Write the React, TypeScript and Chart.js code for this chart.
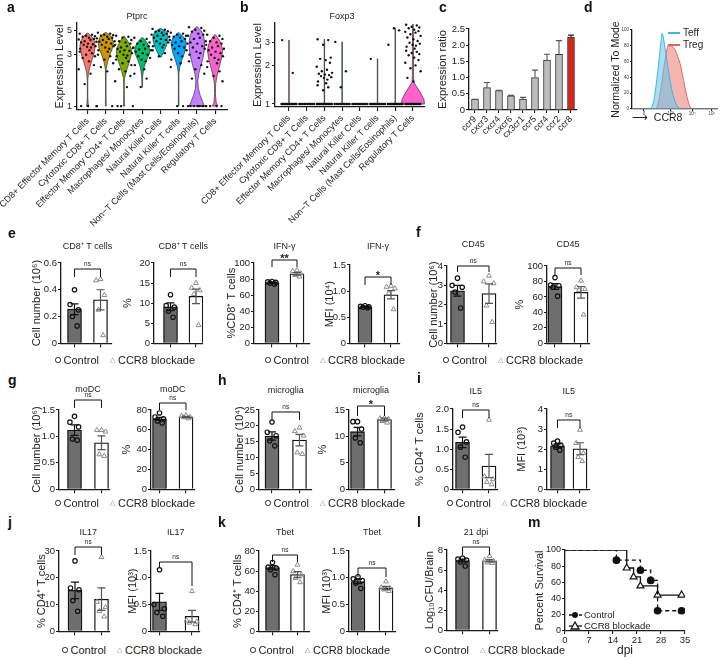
import React, { useEffect, useRef } from 'react';
import { Chart, registerables } from 'chart.js';

Chart.register(...registerables);
const FONT = '"Liberation Sans", Arial, Helvetica, sans-serif';
Chart.defaults.font.family = FONT;
Chart.defaults.color = '#222';
Chart.defaults.plugins.legend.display = false;
Chart.defaults.plugins.tooltip.enabled = false;

// ---------------- data: panels a / b ----------------
const cellTypes = [
  'CD8+ Effector Memory T Cells',
  'Cytotoxic CD8+ T Cells',
  'Effector Memory CD4+ T Cells',
  'Macrophages/ Monocytes',
  'Natural Killer Cells',
  'Natural Killer T cells',
  'Non\u2212T Cells (Mast Cells/Eosinophils)',
  'Regulatory T Cells',
];
const violinColors = ['#F8766D', '#CD9600', '#7CAE00', '#00BE67', '#00BFC4', '#00A9FF', '#C77CFF', '#FF61CC'];
const ptprcTicks = [1, 3, 5];
const foxp3Ticks = [1, 2, 3];
// [expression, relative density]
const ptprcDensity: number[][][] = [
  [[1, 0.15], [1.05, 0.08], [1.2, 0.03], [1.7, 0.03], [2.0, 0.1], [2.3, 0.3], [2.7, 0.6], [3.1, 0.85], [3.6, 1.0], [4.0, 0.9], [4.4, 0.55], [4.75, 0.08]],
  [[1, 0.05], [1.5, 0.03], [2.2, 0.05], [2.6, 0.25], [3.0, 0.55], [3.5, 0.9], [3.9, 1.0], [4.3, 0.8], [4.6, 0.45], [4.8, 0.1]],
  [[1, 0.1], [1.05, 0.05], [1.5, 0.03], [1.8, 0.06], [2.1, 0.3], [2.5, 0.65], [3.0, 0.95], [3.3, 1.0], [3.7, 0.75], [4.1, 0.4], [4.45, 0.05]],
  [[1.5, 0.03], [1.9, 0.06], [2.3, 0.25], [2.7, 0.6], [3.1, 0.95], [3.3, 1.0], [3.7, 0.8], [4.0, 0.5], [4.3, 0.1]],
  [[2.85, 0.1], [3.1, 0.35], [3.5, 0.7], [4.0, 0.95], [4.4, 1.0], [4.8, 0.8], [5.1, 0.35], [5.25, 0.05]],
  [[1, 0.04], [1.5, 0.03], [2.0, 0.04], [2.3, 0.15], [2.7, 0.45], [3.1, 0.75], [3.6, 0.95], [3.9, 1.0], [4.3, 0.75], [4.6, 0.35], [4.8, 0.05]],
  [[1, 1.0], [1.1, 0.75], [1.25, 0.45], [1.45, 0.2], [1.7, 0.12], [2.0, 0.25], [2.4, 0.55], [2.9, 0.85], [3.4, 1.0], [4.0, 1.0], [4.6, 0.85], [5.0, 0.55], [5.3, 0.2], [5.45, 0.05]],
  [[1, 0.35], [1.08, 0.15], [1.3, 0.05], [1.6, 0.08], [1.9, 0.25], [2.3, 0.55], [2.8, 0.85], [3.3, 1.0], [3.8, 0.8], [4.2, 0.45], [4.6, 0.05]],
];
const ptprcCells: number[][] = [
  [4.7, 4.6, 4.5, 4.45, 4.4, 4.3, 4.2, 4.15, 4.1, 4.0, 3.95, 3.9, 3.8, 3.75, 3.7, 3.6, 3.55, 3.5, 3.4, 3.3, 3.2, 3.1, 3.0, 2.9, 2.8, 2.6, 2.4, 2.2, 2.0, 1.6, 1, 1, 1],
  [4.8, 4.7, 4.6, 4.55, 4.5, 4.4, 4.3, 4.25, 4.2, 4.1, 4.0, 3.95, 3.9, 3.8, 3.7, 3.6, 3.5, 3.4, 3.3, 3.2, 3.0, 2.9, 2.7, 2.5, 2.3, 2.1, 1, 1],
  [4.5, 4.4, 4.3, 4.1, 4.0, 3.9, 3.8, 3.7, 3.6, 3.5, 3.45, 3.4, 3.3, 3.25, 3.2, 3.1, 3.0, 2.95, 2.9, 2.8, 2.7, 2.6, 2.5, 2.4, 2.2, 2.1, 1.9, 1.7, 1.5, 1, 1, 1],
  [4.3, 4.2, 4.0, 3.9, 3.8, 3.7, 3.6, 3.5, 3.4, 3.35, 3.3, 3.2, 3.1, 3.0, 2.9, 2.8, 2.7, 2.6, 2.4, 2.2, 2.0, 1.8, 1.5],
  [5.2, 5.1, 5.0, 4.95, 4.9, 4.8, 4.7, 4.6, 4.55, 4.5, 4.4, 4.3, 4.2, 4.1, 4.0, 3.9, 3.8, 3.7, 3.6, 3.5, 3.3, 3.1, 2.9],
  [4.8, 4.7, 4.6, 4.5, 4.4, 4.3, 4.2, 4.1, 4.0, 3.9, 3.8, 3.7, 3.6, 3.5, 3.4, 3.3, 3.1, 2.9, 2.7, 2.5, 2.3, 1, 1],
  [5.4, 5.3, 5.1, 5.0, 4.9, 4.7, 4.6, 4.5, 4.3, 4.2, 4.0, 3.9, 3.8, 3.6, 3.5, 3.4, 3.2, 3.1, 3.0, 2.8, 2.6, 2.4, 2.2, 2.0, 1.8, 1, 1, 1, 1, 1, 1, 1, 1, 1],
  [4.6, 4.5, 4.3, 4.2, 4.0, 3.9, 3.8, 3.7, 3.6, 3.5, 3.4, 3.3, 3.2, 3.1, 3.0, 2.9, 2.8, 2.7, 2.6, 2.5, 2.3, 2.1, 1.9, 1.7, 1, 1, 1, 1],
];
const foxp3Density: number[][][] = [
  [[1, 0.03], [3.15, 0.03]],
  [],
  [[1, 0.03], [3.2, 0.03]],
  [[1, 0.03], [3.05, 0.03]],
  [],
  [[1, 0.03], [2.25, 0.03]],
  [[1, 0.03], [3.9, 0.03]],
  [[1, 1.0], [1.09, 0.95], [1.24, 0.62], [1.38, 0.28], [1.48, 0.08], [1.7, 0.05], [2.5, 0.05], [3.5, 0.04], [4.2, 0.02]],
];
const foxp3Cells: number[][] = [
  [3.15, 1.75],
  [],
  [3.2, 3.15, 2.9, 2.3, 2.25, 2.2, 2.1, 1.95, 1.85, 1.8, 1.75, 1.72, 1.7, 1.68, 1.65, 1.62, 1.6, 1.55, 1.5, 1.45, 1.4, 1.35, 1.28],
  [3.05, 1.8, 1.35],
  [],
  [2.25],
  [2.9, 3.75, 3.9],
  [4.15, 4.1, 4.0, 3.95, 3.9, 3.8, 3.7, 3.65, 3.6, 3.5, 3.4, 3.3, 3.2, 3.1, 3.0, 2.95, 2.9, 2.85, 2.8, 2.7, 2.6, 2.55, 2.5, 2.45, 2.4, 2.3, 2.2, 2.1, 2.0, 1.9, 1.8, 1.6, 1.5],
];
const foxp3ZeroCounts = [14, 10, 16, 10, 10, 12, 16, 14];

// ---------------- data: panel c ----------------
const chemokines = ['ccr9', 'cxcr3', 'cxcr4', 'cxcr6', 'cx3cr1', 'ccr5', 'ccr4', 'ccr2', 'ccr8'];
const chemoRatio = [0.33, 0.69, 0.6, 0.44, 0.34, 1.0, 1.54, 1.72, 2.25];
const chemoErr = [0.0, 0.16, 0.01, 0.01, 0.05, 0.23, 0.18, 0.42, 0.06];

// ---------------- data: panel d ----------------
const teffX = [0, 20, 22, 24, 26, 28, 30, 32, 34, 35, 36, 38, 40, 42, 44, 46, 48, 50, 52, 55, 58, 100];
const teffY = [0, 0, 1, 5, 14, 30, 48, 68, 88, 96, 93, 80, 66, 52, 38, 26, 17, 10, 5, 1, 0, 0];
const tregX = [0, 26, 29, 31, 33, 35, 37, 39, 41, 42, 44, 46, 48, 50, 52, 54, 56, 58, 60, 62, 64, 66, 68, 70, 100];
const tregY = [0, 0, 3, 10, 22, 36, 52, 66, 77, 81, 79, 80, 78, 75, 70, 64, 57, 47, 36, 25, 15, 7, 2, 0, 0];
const ccr8TickPos = [14, 45, 70, 93];
const ccr8TickLabels = ['0', '10\u00b3', '10\u2074', '10\u2075'];

// ---------------- data: panels e-l (Control, CCR8 blockade) ----------------
const cd8NumCtrl = [0.4, 0.29, 0.25, 0.2, 0.13];
const cd8NumBlk = [0.48, 0.47, 0.36, 0.25, 0.06];
const cd8NumMean = [0.255, 0.325];
const cd8NumSem = [0.04, 0.075];
const cd8PctCtrl = [12.1, 9.4, 9.0, 8.0, 6.5];
const cd8PctBlk = [15.0, 13.8, 13.2, 12.3, 4.5];
const cd8PctMean = [9.1, 11.7];
const cd8PctSem = [0.95, 1.8];
const ifngPctCtrl = [77, 76.5, 76, 75, 74];
const ifngPctBlk = [91, 90, 87, 85, 83];
const ifngPctMean = [75.5, 86.5];
const ifngPctSem = [0.6, 1.7];
const ifngMfiCtrl = [0.72, 0.71, 0.7, 0.69, 0.68];
const ifngMfiBlk = [1.1, 1.08, 1.05, 0.96, 0.65];
const ifngMfiMean = [0.7, 0.93];
const ifngMfiSem = [0.01, 0.08];
const cd45NumCtrl = [3.37, 3.0, 2.9, 2.65, 1.83];
const cd45NumBlk = [3.49, 3.2, 3.1, 1.95, 1.1];
const cd45NumMean = [2.72, 2.57];
const cd45NumSem = [0.28, 0.5];
const cd45PctCtrl = [85, 75.5, 74.5, 72.5, 61];
const cd45PctBlk = [81, 72.5, 70, 69, 37];
const cd45PctMean = [73.5, 66];
const cd45PctSem = [3.8, 7.5];
const modcNumCtrl = [1.38, 1.27, 1.18, 0.95, 0.93];
const modcNumBlk = [1.12, 1.12, 1.09, 0.66, 0.63];
const modcNumMean = [1.12, 0.88];
const modcNumSem = [0.1, 0.13];
const modcPctCtrl = [77, 73, 71, 69, 67];
const modcPctBlk = [74.5, 74, 73, 72.5, 71.5];
const modcPctMean = [71, 73];
const modcPctSem = [1.5, 0.6];
const microNumCtrl = [21.2, 18, 16.9, 15.3, 13.7];
const microNumBlk = [19.4, 18.3, 16.9, 11.6, 11.1];
const microNumMean = [16.8, 15.5];
const microNumSem = [1.3, 1.8];
const microPctCtrl = [12.8, 12.8, 11.4, 9.7, 8.8];
const microPctBlk = [13.5, 13.4, 13.3, 12.9, 12.6];
const microPctMean = [10.9, 13.2];
const microPctSem = [0.8, 0.25];
const il5PctCtrl = [1.55, 1.42, 1.18, 1.05, 0.8];
const il5PctBlk = [1.73, 0.32, 0.25, 0.18, 0.12];
const il5PctMean = [1.17, 0.58];
const il5PctSem = [0.13, 0.29];
const il5MfiCtrl = [2.4, 2.3, 2.2, 2.1, 1.95];
const il5MfiBlk = [2.96, 2.3, 1.8, 1.6, 1.4];
const il5MfiMean = [2.17, 2.02];
const il5MfiSem = [0.09, 0.3];
const il17PctCtrl = [26.3, 16.2, 15.5, 11.5, 7.5];
const il17PctBlk = [27.7, 11, 9, 7.5, 5.5];
const il17PctMean = [15.3, 12];
const il17PctSem = [3.1, 4.2];
const il17MfiCtrl = [1.15, 0.5, 0.42, 0.35, 0.28];
const il17MfiBlk = [0.75, 0.2, 0.18, 0.16, 0.13];
const il17MfiMean = [0.55, 0.28];
const il17MfiSem = [0.16, 0.11];
const tbetPctCtrl = [68.6, 64, 63, 61.4, 56.4];
const tbetPctBlk = [66.3, 59.7, 56.4, 53, 48.8];
const tbetPctMean = [63.5, 56.5];
const tbetPctSem = [2, 3];
const tbetMfiCtrl = [1.02, 0.98, 0.95, 0.9, 0.8];
const tbetMfiBlk = [0.93, 0.82, 0.8, 0.78, 0.75];
const tbetMfiMean = [0.93, 0.81];
const tbetMfiSem = [0.04, 0.03];
const cfuCtrl = [7.2, 7.1, 7.0, 6.8, 6.4];
const cfuBlk = [7.4, 7.0, 6.9, 6.75, 6.7];
const cfuMean = [6.95, 6.93];
const cfuSem = [0.15, 0.12];

// ---------------- data: panel m ----------------
const ctrlSurvDay = [0, 15, 22, 25, 27, 34];
const ctrlSurvPct = [100, 87.5, 75, 62.5, 25, 25];
const blkSurvDay = [0, 18, 20, 22, 27, 34];
const blkSurvPct = [100, 77.8, 66.7, 55.6, 44.4, 44.4];

// ---------------- helpers ----------------
type Rect = { l: number; t: number; w: number; h: number };

function ChartBox({ rect, config }: { rect: Rect; config: any }) {
  const ref = useRef<HTMLCanvasElement | null>(null);
  useEffect(() => {
    if (!ref.current) return;
    const chart = new Chart(ref.current, config);
    return () => chart.destroy();
  }, []);
  return (
    <canvas
      ref={ref}
      width={rect.w}
      height={rect.h}
      style={{ position: 'absolute', left: rect.l, top: rect.t, width: rect.w, height: rect.h }}
    />
  );
}

const baseOpts = (padding: any) => ({
  responsive: false,
  animation: false,
  devicePixelRatio: 1,
  events: [],
  layout: { padding, autoPadding: false },
  plugins: { legend: { display: false }, tooltip: { enabled: false } },
});

const axisLook = (tl: number) => ({
  grid: { drawOnChartArea: false, tickLength: tl, color: '#1a1a1a', lineWidth: 1.1, offset: false },
  border: { color: '#1a1a1a', width: 1.3 },
});

const JIT = [-0.32, 0.18, -0.06, 0.3, -0.2, 0.06, 0.26, -0.36, 0.12, -0.12, 0.36, -0.26, 0.02, 0.22, -0.16, 0.32, -0.02, 0.14, -0.3, 0.08];
const JIT5 = [0, -0.17, 0.15, -0.08, 0.1];

// ---------------- violin panels ----------------
type ViolinSpec = {
  rect: Rect; axisX: number; plotTop: number; plotBottom: number; plotRight: number;
  xmin: number; xmax: number; ymin: number; ymax: number; ticks: number[];
  title: string; titleX: number; titleY: number; ylabelX: number;
  dens: number[][][]; cells: number[][]; zeros?: number[]; halfW: number[]; spread: number;
};

function violinConfig(o: ViolinSpec) {
  const pts: any[] = [];
  o.cells.forEach((vals, i) => vals.forEach((v, k) => pts.push({ x: i + JIT[k % JIT.length] * o.spread, y: v })));
  if (o.zeros) {
    o.zeros.forEach((n, i) => {
      for (let k = 0; k < n; k++) pts.push({ x: i - 0.42 + (0.84 * k) / Math.max(1, n - 1), y: 1 });
    });
  }
  const bottom = o.rect.t + o.rect.h;
  const violinPlugin = {
    id: 'violins',
    beforeDatasetsDraw(chart: any) {
      const { ctx, scales } = chart;
      const x = scales.x, y = scales.y;
      ctx.save();
      o.dens.forEach((shape, i) => {
        if (!shape.length) return;
        const hw = o.halfW[i];
        ctx.beginPath();
        shape.forEach(([v, w], k) => {
          const px = x.getPixelForValue(i - w * hw);
          const py = y.getPixelForValue(v);
          if (k) ctx.lineTo(px, py); else ctx.moveTo(px, py);
        });
        for (let k = shape.length - 1; k >= 0; k--) {
          const [v, w] = shape[k];
          ctx.lineTo(x.getPixelForValue(i + w * hw), y.getPixelForValue(v));
        }
        ctx.closePath();
        ctx.fillStyle = violinColors[i];
        ctx.fill();
        ctx.strokeStyle = '#333';
        ctx.lineWidth = 0.7;
        ctx.stroke();
      });
      ctx.restore();
    },
    afterDatasetsDraw(chart: any) {
      const ctx = chart.ctx;
      ctx.save();
      ctx.font = `9px ${FONT}`;
      ctx.fillStyle = '#222';
      ctx.textAlign = 'center';
      ctx.textBaseline = 'middle';
      ctx.fillText(o.title, o.titleX - o.rect.l, o.titleY - o.rect.t);
      ctx.restore();
    },
  };
  return {
    type: 'scatter',
    data: { datasets: [{ data: pts, pointRadius: 1.2, pointBackgroundColor: '#111', pointBorderWidth: 0 }] },
    options: {
      ...baseOpts({ top: o.plotTop - o.rect.t, right: o.rect.l + o.rect.w - o.plotRight, left: 0, bottom: 0 }),
      scales: {
        x: {
          type: 'linear', min: o.xmin, max: o.xmax, offset: false,
          afterBuildTicks: (s: any) => { s.ticks = cellTypes.map((_, i) => ({ value: i })); },
          ticks: { autoSkip: false, minRotation: 45, maxRotation: 45, font: { size: 9 }, padding: 2, color: '#222',
            callback: (v: any) => cellTypes[Math.round(v)] ?? '' },
          ...axisLook(4),
          afterFit: (s: any) => { s.height = bottom - o.plotBottom; s.paddingLeft = 0; s.paddingRight = 0; },
        },
        y: {
          type: 'logarithmic', min: o.ymin, max: o.ymax,
          afterBuildTicks: (s: any) => { s.ticks = o.ticks.map((v) => ({ value: v })); },
          ticks: { font: { size: 9 }, padding: 2, color: '#222', callback: (v: any) => String(v) },
          ...axisLook(3),
          title: { display: true, text: 'Expression Level', font: { size: 11 }, color: '#222', padding: { top: o.ylabelX - o.rect.l - 6.6, bottom: 0 } },
          afterFit: (s: any) => { s.width = o.axisX - o.rect.l; },
        },
      },
    },
    plugins: [violinPlugin],
  };
}

const violinA: ViolinSpec = {
  rect: { l: 0, t: 10, w: 235, h: 218 }, axisX: 77, plotTop: 23, plotBottom: 110, plotRight: 228,
  xmin: -0.58, xmax: 7.71, ymin: 0.92, ymax: 5.9, ticks: ptprcTicks,
  title: 'Ptprc', titleX: 137, titleY: 17, ylabelX: 60,
  dens: ptprcDensity, cells: ptprcCells, halfW: [0.42, 0.42, 0.42, 0.42, 0.42, 0.42, 0.42, 0.42], spread: 1.35,
};
const violinB: ViolinSpec = {
  rect: { l: 190, t: 10, w: 240, h: 218 }, axisX: 275, plotTop: 23, plotBottom: 107, plotRight: 425,
  xmin: -0.79, xmax: 7.68, ymin: 0.948, ymax: 4.28, ticks: foxp3Ticks,
  title: 'Foxp3', titleX: 342, titleY: 17, ylabelX: 258,
  dens: foxp3Density, cells: foxp3Cells, zeros: foxp3ZeroCounts, halfW: [0.42, 0.42, 0.42, 0.42, 0.42, 0.42, 0.42, 0.65], spread: 1.2,
};

// ---------------- panel c ----------------
const rectC: Rect = { l: 436, t: 21, w: 144, h: 119 };
function chemoConfig() {
  const r = rectC;
  const errPlugin = {
    id: 'err',
    afterDatasetsDraw(chart: any) {
      const { ctx, scales } = chart;
      const meta = chart.getDatasetMeta(0);
      ctx.save();
      chemoRatio.forEach((v, i) => {
        const px = meta.data[i].x;
        const y0 = scales.y.getPixelForValue(v);
        const y1 = scales.y.getPixelForValue(v + chemoErr[i]);
        ctx.strokeStyle = i === chemoRatio.length - 1 ? '#222' : '#555';
        ctx.lineWidth = 1.1;
        ctx.beginPath();
        ctx.moveTo(px, y0); ctx.lineTo(px, y1);
        ctx.moveTo(px - 3, y1); ctx.lineTo(px + 3, y1);
        ctx.stroke();
      });
      ctx.restore();
    },
  };
  return {
    type: 'bar',
    data: {
      labels: chemokines,
      datasets: [{
        data: chemoRatio,
        backgroundColor: chemokines.map((c) => (c === 'ccr8' ? '#D8261C' : '#BDBDBD')),
        borderColor: '#333', borderWidth: 1, barThickness: 7,
      }],
    },
    options: {
      ...baseOpts({ top: 29 - r.t, right: r.l + r.w - 577, left: 0, bottom: 0 }),
      scales: {
        x: {
          type: 'category', offset: true,
          ticks: { autoSkip: false, minRotation: 45, maxRotation: 45, font: { size: 9 }, padding: 1, color: '#222' },
          ...axisLook(3),
          afterFit: (s: any) => { s.height = r.t + r.h - 110; s.paddingLeft = 0; s.paddingRight = 0; },
        },
        y: {
          type: 'linear', min: 0, max: 2.5,
          ticks: { stepSize: 0.5, font: { size: 9.5 }, padding: 1, color: '#222', callback: (v: any) => (v === 0 ? '0' : Number(v).toFixed(1)) },
          ...axisLook(3),
          title: { display: true, text: 'Expression ratio', font: { size: 11 }, color: '#222', padding: { top: 0, bottom: 0 } },
          afterFit: (s: any) => { s.width = 469 - r.l; },
        },
      },
    },
    plugins: [errPlugin],
  };
}

// ---------------- panel d ----------------
const rectD: Rect = { l: 610, t: 22, w: 110, h: 102 };
function flowConfig() {
  const r = rectD;
  return {
    type: 'line',
    data: {
      datasets: [
        { data: teffX.map((x, i) => ({ x, y: teffY[i] })), borderColor: '#3DB6E3', backgroundColor: 'rgba(100,196,234,0.55)', fill: 'origin', borderWidth: 1, pointRadius: 0, tension: 0.35 },
        { data: tregX.map((x, i) => ({ x, y: tregY[i] })), borderColor: '#E2665F', backgroundColor: 'rgba(236,120,113,0.55)', fill: 'origin', borderWidth: 1, pointRadius: 0, tension: 0.35 },
      ],
    },
    options: {
      ...baseOpts({ top: 30 - r.t, right: r.l + r.w - 718, left: 0, bottom: 0 }),
      scales: {
        x: {
          type: 'linear', min: 0, max: 100, offset: false,
          afterBuildTicks: (s: any) => { s.ticks = ccr8TickPos.map((v) => ({ value: v })); },
          ticks: { font: { size: 4.5 }, padding: 0, color: '#333', callback: (v: any) => ccr8TickLabels[ccr8TickPos.indexOf(v)] ?? '' },
          ...axisLook(2),
          title: { display: true, text: '\u27F6  CCR8', align: 'start', font: { size: 10.5 }, color: '#222', padding: { top: 0, bottom: 0 } },
          afterFit: (s: any) => { s.height = r.t + r.h - 109; s.paddingLeft = 0; s.paddingRight = 0; },
        },
        y: {
          type: 'linear', min: 0, max: 100,
          ticks: { stepSize: 20, font: { size: 4.5 }, padding: 1, color: '#333' },
          ...axisLook(2),
          title: { display: true, text: 'Normalized To Mode', font: { size: 10.5 }, color: '#222', padding: { top: 0, bottom: 0 } },
          afterFit: (s: any) => { s.width = 632 - r.l; },
        },
      },
    },
  };
}

// ---------------- bar panels e-l ----------------
type BarSpec = {
  title: string; ylabel: string; ymax: number; step: number;
  ctrl: number[]; blk: number[]; mean: number[]; sem: number[]; sig: string;
  axisX: number; ctrlX: number; blkX: number; plotRight: number;
  topY: number; zeroY: number; titleY: number; ylabelX: number;
  bracketY: number; drop: number[];
};

const fmtTick = (v: number, step: number) => (v === 0 ? '0' : step < 1 ? v.toFixed(1) : String(Math.round(v)));

function barPanel(s: BarSpec) {
  const l = Math.round(s.ylabelX - 7);
  const t = Math.round(Math.min(s.titleY - 8, s.bracketY - 14));
  const r = Math.round(s.plotRight + 5);
  const b = Math.round(s.zeroY + 6);
  const unit = s.blkX - s.ctrlX;
  const xmin = -(s.ctrlX - s.axisX) / unit;
  const xmax = (s.plotRight - s.ctrlX) / unit;
  const rect = { l, t, w: r - l, h: b - t };
  const extras = {
    id: 'extras',
    afterDatasetsDraw(chart: any) {
      const { ctx, scales } = chart;
      const x = scales.x, y = scales.y;
      ctx.save();
      s.mean.forEach((m, i) => {
        const px = x.getPixelForValue(i);
        const y1 = y.getPixelForValue(m + s.sem[i]);
        const y0 = y.getPixelForValue(Math.max(0, m - s.sem[i]));
        ctx.strokeStyle = i === 0 ? '#111' : '#555';
        ctx.lineWidth = 1.2;
        ctx.beginPath();
        ctx.moveTo(px, y0); ctx.lineTo(px, y1);
        ctx.moveTo(px - 4, y1); ctx.lineTo(px + 4, y1);
        ctx.moveTo(px - 4, y0); ctx.lineTo(px + 4, y0);
        ctx.stroke();
      });
      const x0 = x.getPixelForValue(0), x1 = x.getPixelForValue(1);
      const by = s.bracketY - t;
      ctx.strokeStyle = '#111';
      ctx.lineWidth = 1;
      ctx.beginPath();
      ctx.moveTo(x0, s.drop[0] - t); ctx.lineTo(x0, by); ctx.lineTo(x1, by); ctx.lineTo(x1, s.drop[1] - t);
      ctx.stroke();
      ctx.fillStyle = '#222';
      ctx.textAlign = 'center';
      if (s.sig === 'ns') {
        ctx.font = `6.5px ${FONT}`;
        ctx.textBaseline = 'middle';
        ctx.fillText('ns', (x0 + x1) / 2, by - 5);
      } else {
        ctx.font = `bold 11px ${FONT}`;
        ctx.textBaseline = 'alphabetic';
        ctx.fillText(s.sig, (x0 + x1) / 2, by + 1.5);
      }
      ctx.font = `9px ${FONT}`;
      ctx.textBaseline = 'middle';
      ctx.fillText(s.title, (x0 + x1) / 2, s.titleY - t);
      ctx.restore();
    },
  };
  const config = {
    type: 'bar',
    data: {
      datasets: [
        { type: 'bar', data: [{ x: 0, y: s.mean[0] }, { x: 1, y: s.mean[1] }], backgroundColor: ['#6e6e6e', '#ffffff'], borderColor: '#111', borderWidth: 1.3, barThickness: 14, order: 3 },
        { type: 'scatter', data: s.ctrl.map((v, i) => ({ x: JIT5[i % 5], y: v })), pointStyle: 'circle', pointRadius: 2.2, borderColor: '#111', borderWidth: 1.2, backgroundColor: 'rgba(0,0,0,0)', order: 2 },
        { type: 'scatter', data: s.blk.map((v, i) => ({ x: 1 + JIT5[i % 5], y: v })), pointStyle: 'triangle', pointRadius: 2.8, borderColor: '#8c8c8c', borderWidth: 1, backgroundColor: 'rgba(0,0,0,0)', order: 1 },
      ],
    },
    options: {
      ...baseOpts({ top: s.topY - t, right: r - s.plotRight, left: 0, bottom: 0 }),
      scales: {
        x: {
          type: 'linear', min: xmin, max: xmax, offset: false,
          afterBuildTicks: (sc: any) => { sc.ticks = [{ value: 0 }, { value: 1 }]; },
          ticks: { callback: () => '', font: { size: 2 } },
          ...axisLook(4),
          afterFit: (sc: any) => { sc.height = b - s.zeroY; sc.paddingLeft = 0; sc.paddingRight = 0; },
        },
        y: {
          type: 'linear', min: 0, max: s.ymax,
          ticks: { stepSize: s.step, font: { size: 9.5 }, padding: 1, color: '#222', callback: (v: any) => fmtTick(Number(v), s.step) },
          ...axisLook(3),
          title: { display: true, text: s.ylabel, font: { size: 11 }, color: '#222', padding: { top: s.ylabelX - l - 6.6, bottom: 0 } },
          afterFit: (sc: any) => { sc.width = s.axisX - l; },
        },
      },
    },
    plugins: [extras],
  };
  return { rect, config };
}

const barSpecs: BarSpec[] = [
  // e
  { title: 'CD8\u207a T cells', ylabel: 'Cell number (10\u2076)', ymax: 0.6, step: 0.2, ctrl: cd8NumCtrl, blk: cd8NumBlk, mean: cd8NumMean, sem: cd8NumSem, sig: 'ns',
    axisX: 61, ctrlX: 74.5, blkX: 100.5, plotRight: 112, topY: 263, zeroY: 344, titleY: 247, ylabelX: 37, bracketY: 269, drop: [277, 277] },
  { title: 'CD8\u207a T cells', ylabel: '%', ymax: 20, step: 5, ctrl: cd8PctCtrl, blk: cd8PctBlk, mean: cd8PctMean, sem: cd8PctSem, sig: 'ns',
    axisX: 154, ctrlX: 170.5, blkX: 196, plotRight: 203, topY: 263, zeroY: 344, titleY: 247, ylabelX: 128, bracketY: 269, drop: [277, 277] },
  { title: 'IFN-\u03b3', ylabel: '%CD8\u207a T cells', ymax: 100, step: 20, ctrl: ifngPctCtrl, blk: ifngPctBlk, mean: ifngPctMean, sem: ifngPctSem, sig: '**',
    axisX: 254, ctrlX: 272, blkX: 297, plotRight: 310, topY: 263, zeroY: 344, titleY: 247, ylabelX: 232, bracketY: 260, drop: [267, 267] },
  { title: 'IFN-\u03b3', ylabel: 'MFI (10\u2074)', ymax: 1.5, step: 0.5, ctrl: ifngMfiCtrl, blk: ifngMfiBlk, mean: ifngMfiMean, sem: ifngMfiSem, sig: '*',
    axisX: 350, ctrlX: 365, blkX: 391, plotRight: 400, topY: 265, zeroY: 344, titleY: 247, ylabelX: 330, bracketY: 277, drop: [285, 285] },
  // f
  { title: 'CD45', ylabel: 'Cell number (10\u2076)', ymax: 4, step: 1, ctrl: cd45NumCtrl, blk: cd45NumBlk, mean: cd45NumMean, sem: cd45NumSem, sig: 'ns',
    axisX: 447, ctrlX: 457.5, blkX: 489, plotRight: 497, topY: 266, zeroY: 344, titleY: 245, ylabelX: 434, bracketY: 266, drop: [272, 272] },
  { title: 'CD45', ylabel: '%', ymax: 100, step: 20, ctrl: cd45PctCtrl, blk: cd45PctBlk, mean: cd45PctMean, sem: cd45PctSem, sig: 'ns',
    axisX: 547, ctrlX: 555, blkX: 581, plotRight: 590, topY: 266, zeroY: 344, titleY: 245, ylabelX: 520, bracketY: 268, drop: [275, 275] },
  // g
  { title: 'moDC', ylabel: 'Cell number (10\u2076)', ymax: 1.5, step: 0.5, ctrl: modcNumCtrl, blk: modcNumBlk, mean: modcNumMean, sem: modcNumSem, sig: 'ns',
    axisX: 59, ctrlX: 74.5, blkX: 101.5, plotRight: 110, topY: 410, zeroY: 490, titleY: 390, ylabelX: 37, bracketY: 400, drop: [408, 408] },
  { title: 'moDC', ylabel: '%', ymax: 80, step: 20, ctrl: modcPctCtrl, blk: modcPctBlk, mean: modcPctMean, sem: modcPctSem, sig: 'ns',
    axisX: 151, ctrlX: 159.5, blkX: 186, plotRight: 195, topY: 410, zeroY: 490, titleY: 390, ylabelX: 127, bracketY: 403, drop: [410, 410] },
  // h
  { title: 'microglia', ylabel: 'Cell number (10\u2074)', ymax: 25, step: 5, ctrl: microNumCtrl, blk: microNumBlk, mean: microNumMean, sem: microNumSem, sig: 'ns',
    axisX: 259, ctrlX: 272, blkX: 299.5, plotRight: 312, topY: 410, zeroY: 490, titleY: 391, ylabelX: 240, bracketY: 412, drop: [420, 420] },
  { title: 'microglia', ylabel: '%', ymax: 15, step: 5, ctrl: microPctCtrl, blk: microPctBlk, mean: microPctMean, sem: microPctSem, sig: '*',
    axisX: 349, ctrlX: 357.5, blkX: 384.5, plotRight: 395, topY: 410, zeroY: 490, titleY: 391, ylabelX: 323, bracketY: 406, drop: [416, 416] },
  // i
  { title: 'IL5', ylabel: '% CD4\u207a T cells', ymax: 2, step: 0.5, ctrl: il5PctCtrl, blk: il5PctBlk, mean: il5PctMean, sem: il5PctSem, sig: 'ns',
    axisX: 453, ctrlX: 462.5, blkX: 489, plotRight: 498, topY: 409, zeroY: 490, titleY: 392, ylabelX: 420, bracketY: 410, drop: [418, 418] },
  { title: 'IL5', ylabel: 'MFI (10\u00b3)', ymax: 4, step: 1, ctrl: il5MfiCtrl, blk: il5MfiBlk, mean: il5MfiMean, sem: il5MfiSem, sig: 'ns',
    axisX: 547, ctrlX: 557.5, blkX: 580, plotRight: 590, topY: 409, zeroY: 490, titleY: 392, ylabelX: 522, bracketY: 420, drop: [428, 428] },
  // j
  { title: 'IL17', ylabel: '% CD4\u207a T cells', ymax: 30, step: 10, ctrl: il17PctCtrl, blk: il17PctBlk, mean: il17PctMean, sem: il17PctSem, sig: 'ns',
    axisX: 59, ctrlX: 75, blkX: 101.5, plotRight: 110, topY: 551, zeroY: 632, titleY: 533, ylabelX: 42, bracketY: 547, drop: [555, 555] },
  { title: 'IL17', ylabel: 'MFI (10\u00b3)', ymax: 1.5, step: 0.5, ctrl: il17MfiCtrl, blk: il17MfiBlk, mean: il17MfiMean, sem: il17MfiSem, sig: 'ns',
    axisX: 151, ctrlX: 159.5, blkX: 192, plotRight: 200, topY: 551, zeroY: 632, titleY: 533, ylabelX: 133, bracketY: 562, drop: [567, 586] },
  // k
  { title: 'Tbet', ylabel: '% CD4\u207a T cells', ymax: 80, step: 20, ctrl: tbetPctCtrl, blk: tbetPctBlk, mean: tbetPctMean, sem: tbetPctSem, sig: 'ns',
    axisX: 259, ctrlX: 272.5, blkX: 297.5, plotRight: 310, topY: 551, zeroY: 632, titleY: 533, ylabelX: 238, bracketY: 555, drop: [562, 562] },
  { title: 'Tbet', ylabel: 'MFI (10\u00b3)', ymax: 1.5, step: 0.5, ctrl: tbetMfiCtrl, blk: tbetMfiBlk, mean: tbetMfiMean, sem: tbetMfiSem, sig: 'ns',
    axisX: 349, ctrlX: 358, blkX: 386, plotRight: 396, topY: 551, zeroY: 632, titleY: 533, ylabelX: 327, bracketY: 568, drop: [577, 577] },
  // l
  { title: '21 dpi', ylabel: 'Log\u2081\u2080CFU/Brain', ymax: 8, step: 2, ctrl: cfuCtrl, blk: cfuBlk, mean: cfuMean, sem: cfuSem, sig: 'ns',
    axisX: 447, ctrlX: 462.5, blkX: 489.5, plotRight: 498, topY: 550, zeroY: 631, titleY: 533, ylabelX: 430, bracketY: 547, drop: [555, 555] },
];

// ---------------- panel m ----------------
const rectM: Rect = { l: 533, t: 540, w: 162, h: 118 };
function survivalConfig() {
  const r = rectM;
  const legendPlugin = {
    id: 'survLegend',
    afterDatasetsDraw(chart: any) {
      const ctx = chart.ctx;
      ctx.save();
      const y1 = 615 - r.t, y2 = 626 - r.t, mx = 575 - r.l;
      ctx.strokeStyle = '#111';
      ctx.lineWidth = 1.3;
      ctx.setLineDash([3, 2]);
      ctx.beginPath(); ctx.moveTo(mx - 6, y1); ctx.lineTo(mx + 7, y1); ctx.stroke();
      ctx.setLineDash([]);
      ctx.beginPath(); ctx.moveTo(mx - 6, y2); ctx.lineTo(mx + 7, y2); ctx.stroke();
      ctx.fillStyle = '#111';
      ctx.beginPath(); ctx.arc(mx, y1, 3, 0, Math.PI * 2); ctx.fill();
      ctx.fillStyle = '#fff';
      ctx.beginPath(); ctx.moveTo(mx, y2 - 4); ctx.lineTo(mx + 4, y2 + 3); ctx.lineTo(mx - 4, y2 + 3); ctx.closePath(); ctx.fill(); ctx.stroke();
      ctx.fillStyle = '#222';
      ctx.font = `9.5px ${FONT}`;
      ctx.textBaseline = 'middle';
      ctx.textAlign = 'left';
      ctx.fillText('Control', mx + 9, y1);
      ctx.fillText('CCR8 blockade', mx + 9, y2);
      ctx.restore();
    },
  };
  return {
    type: 'line',
    data: {
      datasets: [
        { data: ctrlSurvDay.map((x, i) => ({ x, y: ctrlSurvPct[i] })), stepped: 'before', borderColor: '#111', borderWidth: 1.3, borderDash: [4, 3],
          pointRadius: ctrlSurvDay.map((_, i) => (i === 0 ? 0 : 3.2)), pointStyle: 'circle', pointBackgroundColor: '#111', pointBorderColor: '#111', fill: false },
        { data: blkSurvDay.map((x, i) => ({ x, y: blkSurvPct[i] })), stepped: 'before', borderColor: '#111', borderWidth: 1.3,
          pointRadius: blkSurvDay.map((_, i) => (i === 0 ? 0 : 4)), pointStyle: 'triangle', pointBackgroundColor: '#fff', pointBorderColor: '#111', pointBorderWidth: 1.2, fill: false },
      ],
    },
    options: {
      ...baseOpts({ top: 550 - r.t, right: r.l + r.w - 685, left: 0, bottom: 0 }),
      scales: {
        x: {
          type: 'linear', min: 0, max: 35,
          ticks: { stepSize: 7, font: { size: 9.5 }, padding: 1, color: '#222' },
          ...axisLook(3),
          title: { display: true, text: 'dpi', font: { size: 12 }, color: '#222', padding: { top: 0, bottom: 0 } },
          afterFit: (s: any) => { s.height = r.t + r.h - 631; s.paddingLeft = 0; s.paddingRight = 0; },
        },
        y: {
          type: 'linear', min: 0, max: 100,
          ticks: { stepSize: 20, font: { size: 9 }, padding: 1, color: '#222' },
          ...axisLook(3),
          title: { display: true, text: 'Percent Survival', font: { size: 11 }, color: '#222', padding: { top: 0, bottom: 0 } },
          afterFit: (s: any) => { s.width = 565 - r.l; },
        },
      },
    },
    plugins: [legendPlugin],
  };
}

// ---------------- html pieces ----------------
const panelLetters: [string, number, number][] = [
  ['a', 7, 12], ['b', 240, 12], ['c', 439, 12], ['d', 584, 12],
  ['e', 8, 238], ['f', 416, 237], ['g', 8, 385], ['h', 218, 385], ['i', 417, 383],
  ['j', 8, 527], ['k', 218, 527], ['l', 417, 527], ['m', 528, 527],
];
const groupLegends: [number, number][] = [
  [55, 360], [265, 360], [443, 360],
  [55, 503], [265, 503], [447, 503],
  [62, 650], [250, 650], [425, 650],
];

function GroupLegend({ x, y }: { x: number; y: number }) {
  return (
    <div style={{ position: 'absolute', left: x, top: y - 7, height: 14, display: 'flex', alignItems: 'center', fontFamily: FONT, fontSize: 11, color: '#222', whiteSpace: 'nowrap' }}>
      <span style={{ width: 3.5, height: 3.5, border: '1.4px solid #222', borderRadius: '50%', marginRight: 3 }} />
      <span>Control</span>
      <span style={{ marginLeft: 11, marginRight: 3, fontSize: 7, color: '#888' }}>{'\u25b3'}</span>
      <span>CCR8 blockade</span>
    </div>
  );
}

export default function App() {
  const bars = barSpecs.map(barPanel);
  return (
    <div style={{ position: 'absolute', left: 0, top: 0, width: 720, height: 658, background: '#fff', overflow: 'hidden', fontFamily: FONT }}>
      <ChartBox rect={violinA.rect} config={violinConfig(violinA)} />
      <ChartBox rect={violinB.rect} config={violinConfig(violinB)} />
      <ChartBox rect={rectC} config={chemoConfig()} />
      <ChartBox rect={rectD} config={flowConfig()} />
      {bars.map((p, i) => <ChartBox key={i} rect={p.rect} config={p.config} />)}
      <ChartBox rect={rectM} config={survivalConfig()} />
      {panelLetters.map(([ch, x, base]) => (
        <div key={ch} style={{ position: 'absolute', left: x, top: base - 12, fontSize: 14, lineHeight: '14px', fontWeight: 'bold', color: '#111' }}>{ch}</div>
      ))}
      {groupLegends.map(([x, y], i) => <GroupLegend key={i} x={x} y={y} />)}
      <div style={{ position: 'absolute', left: 668, top: 27, fontSize: 10, lineHeight: '12px', color: '#222' }}>
        <div style={{ display: 'flex', alignItems: 'center' }}><span style={{ width: 12, height: 2, background: '#3DB6E3', marginRight: 3 }} />Teff</div>
        <div style={{ display: 'flex', alignItems: 'center' }}><span style={{ width: 12, height: 2, background: '#E2665F', marginRight: 3 }} />Treg</div>
      </div>
    </div>
  );
}
